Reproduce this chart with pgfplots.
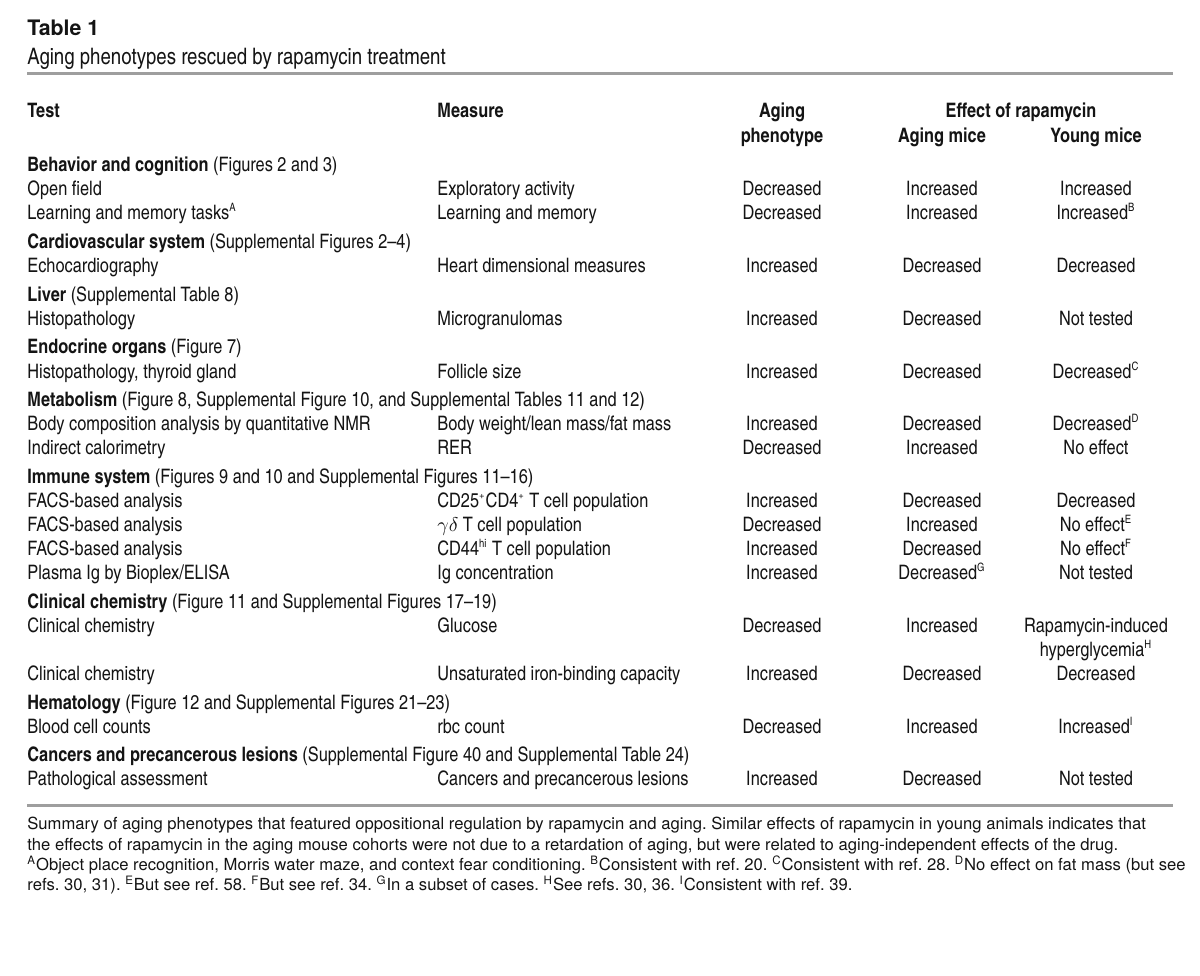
\documentclass[border=0pt]{standalone}
\usepackage{pgfplots}
\pgfplotsset{compat=1.18}
\usepackage{fontspec}
\setmainfont{TeX Gyre Heros}
\newfontfamily\cn{texgyreheroscn}[Extension=.otf, UprightFont=*-regular, BoldFont=*-bold, Ligatures=TeX]
\frenchspacing

\tikzset{
  cell/.style={inner sep=0pt, text=black!92, font=\cn\fontsize{10}{12}\selectfont},
  head/.style={cell, font=\cn\bfseries\fontsize{10}{12}\selectfont},
  note/.style={inner sep=0pt, text=black!92, font=\fontsize{8.35}{10}\selectfont},
}
% one table row: baseline y, test, measure, aging phenotype, aging mice, young mice
\newcommand\row[6]{%
  \node[cell, anchor=base west] at (axis cs:27,#1) {#2};
  \node[cell, anchor=base west] at (axis cs:437,#1) {#3};
  \node[cell, anchor=base] at (axis cs:782,#1) {#4};
  \node[cell, anchor=base] at (axis cs:942,#1) {#5};
  \node[cell, anchor=base] at (axis cs:1096,#1) {#6};}
\newcommand\sect[3]{%
  \node[cell, anchor=base west] at (axis cs:27,#1) {\bfseries #2\mdseries\ #3};}
\newcommand\fn[1]{\textsuperscript{\fontsize{5.8}{7}\selectfont #1}}

\begin{document}
\begin{tikzpicture}
\begin{axis}[
  x=0.5bp, y=0.5bp,
  xmin=0, xmax=1200, ymin=0, ymax=975,
  y dir=reverse,
  hide axis,
  clip=false,
]
\addplot[draw=none] coordinates {(0,0) (1200,975)};

% rules
\addplot[black!38, line width=1.5bp] coordinates {(27,73) (1173,73)};
\addplot[black!38, line width=1.5bp] coordinates {(27,805) (1173,805)};

% title
\node[cell, anchor=base west, font=\fontsize{10.7}{12}\selectfont\bfseries] at (axis cs:27,35) {Table 1};
\node[cell, anchor=base west, font=\cn\fontsize{11.4}{13}\selectfont] at (axis cs:27,64) {Aging phenotypes rescued by rapamycin treatment};

% header
\node[head, anchor=base west] at (axis cs:27,117) {Test};
\node[head, anchor=base west] at (axis cs:437,117) {Measure};
\node[head, anchor=base] at (axis cs:782,117) {Aging};
\node[head, anchor=base] at (axis cs:1021,117) {Effect of rapamycin};
\node[head, anchor=base] at (axis cs:782,142) {phenotype};
\node[head, anchor=base] at (axis cs:942,142) {Aging mice};
\node[head, anchor=base] at (axis cs:1096,142) {Young mice};

% body
\sect{171}{Behavior and cognition}{(Figures 2 and 3)}
\row{195}{Open field}{Exploratory activity}{Decreased}{Increased}{Increased}
\row{219}{Learning and memory tasks\fn{A}}{Learning and memory}{Decreased}{Increased}{Increased\fn{B}}
\sect{248}{Cardiovascular system}{(Supplemental Figures 2–4)}
\row{272}{Echocardiography}{Heart dimensional measures}{Increased}{Decreased}{Decreased}
\sect{301}{Liver}{(Supplemental Table 8)}
\row{325}{Histopathology}{Microgranulomas}{Increased}{Decreased}{Not tested}
\sect{353}{Endocrine organs}{(Figure 7)}
\row{378}{Histopathology, thyroid gland}{Follicle size}{Increased}{Decreased}{Decreased\fn{C}}
\sect{406}{Metabolism}{(Figure 8, Supplemental Figure 10, and Supplemental Tables 11 and 12)}
\row{430}{Body composition analysis by quantitative NMR}{Body weight/lean mass/fat mass}{Increased}{Decreased}{Decreased\fn{D}}
\row{454}{Indirect calorimetry}{RER}{Decreased}{Increased}{No effect}
\sect{483}{Immune system}{(Figures 9 and 10 and Supplemental Figures 11–16)}
\row{507}{FACS-based analysis}{CD25\fn{+}CD4\fn{+} T cell population}{Increased}{Decreased}{Decreased}
\row{531}{FACS-based analysis}{$\gamma\delta$ T cell population}{Decreased}{Increased}{No effect\fn{E}}
\row{555}{FACS-based analysis}{CD44\fn{hi} T cell population}{Increased}{Decreased}{No effect\fn{F}}
\row{579}{Plasma Ig by Bioplex/ELISA}{Ig concentration}{Increased}{Decreased\fn{G}}{Not tested}
\sect{608}{Clinical chemistry}{(Figure 11 and Supplemental Figures 17–19)}
\row{632}{Clinical chemistry}{Glucose}{Decreased}{Increased}{Rapamycin-induced}
\node[cell, anchor=base] at (axis cs:1096,656) {hyperglycemia\fn{H}};
\row{680}{Clinical chemistry}{Unsaturated iron-binding capacity}{Increased}{Decreased}{Decreased}
\sect{709}{Hematology}{(Figure 12 and Supplemental Figures 21–23)}
\row{733}{Blood cell counts}{rbc count}{Decreased}{Increased}{Increased\fn{I}}
\sect{761}{Cancers and precancerous lesions}{(Supplemental Figure 40 and Supplemental Table 24)}
\row{785}{Pathological assessment}{Cancers and precancerous lesions}{Increased}{Decreased}{Not tested}

% footnotes
\node[note, anchor=base west] at (axis cs:27,829) {Summary of aging phenotypes that featured oppositional regulation by rapamycin and aging. Similar effects of rapamycin in young animals indicates that};
\node[note, anchor=base west] at (axis cs:27,850) {the effects of rapamycin in the aging mouse cohorts were not due to a retardation of aging, but were related to aging-independent effects of the drug.};
\node[note, anchor=base west] at (axis cs:27,870) {\fn{A}Object place recognition, Morris water maze, and context fear conditioning. \fn{B}Consistent with ref. 20. \fn{C}Consistent with ref. 28. \fn{D}No effect on fat mass (but see};
\node[note, anchor=base west] at (axis cs:27,890) {refs. 30, 31). \fn{E}But see ref. 58. \fn{F}But see ref. 34. \fn{G}In a subset of cases. \fn{H}See refs. 30, 36. \fn{I}Consistent with ref. 39.};
\end{axis}
\end{tikzpicture}
\end{document}
